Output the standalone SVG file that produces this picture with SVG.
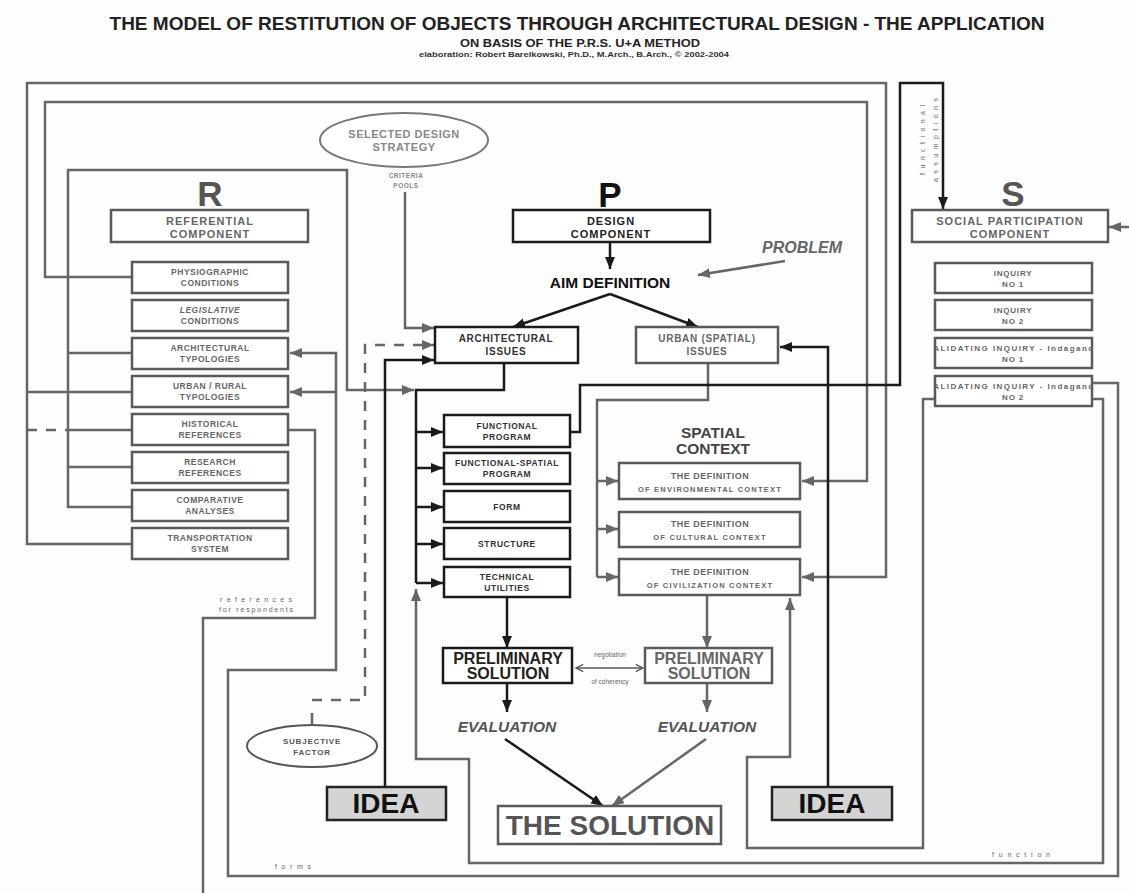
<svg xmlns="http://www.w3.org/2000/svg" width="1129" height="893" viewBox="0 0 1129 893">
<style>
text{font-family:"Liberation Sans",Arial,sans-serif;font-weight:bold;text-anchor:middle}
.g{fill:none;stroke:#666;stroke-width:2.5}
.k{fill:none;stroke:#1a1a1a;stroke-width:2.5}
.d{fill:none;stroke:#666;stroke-width:2.5;stroke-dasharray:10 9}
.bg{fill:#fff;stroke:#5a5a5a;stroke-width:2.5}
.bk{fill:#fff;stroke:#1a1a1a;stroke-width:2.5}
.idea{fill:#d4d4d4;stroke:#222;stroke-width:2.5}
.rt{font-size:8.5px;fill:#666;letter-spacing:0.5px}
.st{font-size:8px;fill:#666;letter-spacing:0.8px}
.pt{font-size:8.5px;fill:#333;letter-spacing:0.6px}
.ct{font-size:11px;letter-spacing:1px}
.big{font-size:35px}
.sm{font-size:7px;fill:#666;font-weight:normal}
</style>
<defs>
<marker id="ak" viewBox="0 0 12 10" refX="12" refY="5" markerWidth="12" markerHeight="10" markerUnits="userSpaceOnUse" orient="auto"><path d="M0,0 L12,5 L0,10 z" fill="#1a1a1a"/></marker>
<marker id="ag" viewBox="0 0 12 10" refX="12" refY="5" markerWidth="12" markerHeight="10" markerUnits="userSpaceOnUse" orient="auto"><path d="M0,0 L12,5 L0,10 z" fill="#666"/></marker>
<marker id="an" viewBox="0 0 10 10" refX="9" refY="5" markerWidth="9" markerHeight="9" markerUnits="userSpaceOnUse" orient="auto-start-reverse"><path d="M1,1 L9,5 L1,9" fill="none" stroke="#555" stroke-width="1.5"/></marker>
<clipPath id="vclip"><rect x="936" y="330" width="155" height="80"/></clipPath>
</defs>
<rect width="1129" height="893" fill="#fdfdfd"/>

<g id="title">
<text x="577" y="30" style="font-size:19px;fill:#222">THE MODEL OF RESTITUTION OF OBJECTS THROUGH ARCHITECTURAL DESIGN - THE APPLICATION</text>
<text x="580" y="47" style="font-size:10.5px;fill:#222" textLength="240" lengthAdjust="spacingAndGlyphs">ON BASIS OF THE P.R.S. U+A METHOD</text>
<text x="574" y="57" style="font-size:7.5px;fill:#333" textLength="310" lengthAdjust="spacingAndGlyphs">elaboration: Robert Barelkowski, Ph.D., M.Arch., B.Arch., © 2002-2004</text>
</g>

<g id="connectors">
<!-- outer line 1 -->
<path class="g" d="M132,544 H27 V83 H886 V577 H802" marker-end="url(#ag)"/>
<path class="g" d="M27,392 H132"/>
<!-- line 2 -->
<path class="g" d="M132,277 H45 V102 H867 V481 H802" marker-end="url(#ag)"/>
<!-- R frame -->
<path class="g" d="M132,507 H68 V170 H347 V390 H414" marker-end="url(#ag)"/>
<path class="g" d="M68,353 H132 M68,430 H132 M68,467 H132"/>
<path class="d" d="M27,430 H68"/>
<!-- criteria pools -->
<path class="g" d="M405,192 V328 H434" marker-end="url(#ag)"/>
<!-- subjective factor -->
<path class="g" d="M312,725 V713"/>
<path class="d" d="M312,700 H365 V345 H434" marker-end="url(#ag)"/>
<!-- idea left -->
<path class="k" d="M385,787 V360 H434" marker-end="url(#ak)"/>
<!-- architectural branch -->
<path class="k" d="M504,363 V390 H416 V583"/>
<path class="k" d="M416,432 H443" marker-end="url(#ak)"/>
<path class="k" d="M416,468 H443" marker-end="url(#ak)"/>
<path class="k" d="M416,507 H443" marker-end="url(#ak)"/>
<path class="k" d="M416,544 H443" marker-end="url(#ak)"/>
<path class="k" d="M416,583 H443" marker-end="url(#ak)"/>
<!-- forms -->
<path class="g" d="M1092,383 H1118 V876 H228 V670 H336 V353 H290" marker-end="url(#ag)"/>
<path class="g" d="M336,392 H290" marker-end="url(#ag)"/>
<!-- function -->
<path class="g" d="M1092,399 H1103 V863 H469 V759 H416 V589" marker-end="url(#ag)"/>
<!-- validating left -->
<path class="g" d="M935,399 H923 V848 H747 V757 H790 V598" marker-end="url(#ag)"/>
<!-- idea right -->
<path class="k" d="M828,787 V347 H780" marker-end="url(#ak)"/>
<!-- urban branch -->
<path class="g" d="M708,363 V400 H597 V577"/>
<path class="g" d="M597,481 H618" marker-end="url(#ag)"/>
<path class="g" d="M597,529 H618" marker-end="url(#ag)"/>
<path class="g" d="M597,577 H618" marker-end="url(#ag)"/>
<!-- functional assumptions -->
<path class="k" d="M570,432 H580 V385 H900 V83 H943 V209" marker-end="url(#ak)"/>
<!-- historical references -->
<path class="g" d="M288,430 H315 V618 H203 V893"/>
<!-- problem -->
<path class="g" d="M785,261 L698,275" marker-end="url(#ag)"/>
<!-- into S from right -->
<path class="g" d="M1129,227 H1109" marker-end="url(#ag)"/>
<!-- design flow -->
<path class="k" d="M610,242 V269" marker-end="url(#ak)"/>
<path class="k" d="M610,294 L513,327" marker-end="url(#ak)"/>
<path class="k" d="M610,294 L698,327" marker-end="url(#ak)"/>
<path class="k" d="M507,597 V648" marker-end="url(#ak)"/>
<path class="g" d="M707,595 V648" marker-end="url(#ag)"/>
<path d="M576,668 H643" fill="none" stroke="#555" stroke-width="1.5" marker-start="url(#an)" marker-end="url(#an)"/>
<path class="k" d="M507,683 V712" marker-end="url(#ak)"/>
<path class="g" d="M707,683 V712" marker-end="url(#ag)"/>
<path class="k" d="M505,739 L603,806" marker-end="url(#ak)"/>
<path class="g" d="M706,739 L612,806" marker-end="url(#ag)"/>
</g>

<g id="labels">
<text x="256" y="602" class="sm" textLength="72" lengthAdjust="spacing">references</text>
<text x="256" y="612" class="sm" textLength="74" lengthAdjust="spacing">for respondents</text>
<text x="293" y="869" class="sm" textLength="36" lengthAdjust="spacing">forms</text>
<text x="1021" y="857" class="sm" textLength="58" lengthAdjust="spacing">function</text>
<text x="610" y="657" class="sm" style="font-size:6.5px">negotiation</text>
<text x="610" y="684" class="sm" style="font-size:6.5px">of coherency</text>
<text transform="translate(925,140) rotate(-90)" class="sm" textLength="70" lengthAdjust="spacing">functional</text>
<text transform="translate(938,140) rotate(-90)" class="sm" textLength="84" lengthAdjust="spacing">assumptions</text>
<text x="842" y="253" style="font-size:16px;fill:#666;font-style:italic;text-anchor:end">PROBLEM</text>
<text x="713" y="438" style="font-size:15.5px;fill:#444">SPATIAL</text>
<text x="713" y="454" style="font-size:15.5px;fill:#444">CONTEXT</text>
<text x="610" y="288" style="font-size:15.5px;fill:#111">AIM DEFINITION</text>
<text x="507" y="732" style="font-size:15.5px;fill:#555;font-style:italic">EVALUATION</text>
<text x="707" y="732" style="font-size:15.5px;fill:#555;font-style:italic">EVALUATION</text>
</g>

<g id="strategy">
<ellipse cx="404" cy="140" rx="84" ry="27" fill="#fff" stroke="#777" stroke-width="2"/>
<text x="404" y="138" style="font-size:11px;fill:#888;letter-spacing:0.5px">SELECTED DESIGN</text>
<text x="404" y="151" style="font-size:11px;fill:#888;letter-spacing:0.5px">STRATEGY</text>
<text x="406" y="178" style="font-size:6.5px;fill:#888;letter-spacing:0.5px">CRITERIA</text>
<text x="406" y="188" style="font-size:6.5px;fill:#888;letter-spacing:0.5px">POOLS</text>
</g>

<g id="subjective">
<ellipse cx="312" cy="746" rx="65" ry="21" fill="#fff" stroke="#555" stroke-width="2"/>
<text x="312" y="744" style="font-size:8px;fill:#555;letter-spacing:0.8px">SUBJECTIVE</text>
<text x="312" y="755" style="font-size:8px;fill:#555;letter-spacing:0.8px">FACTOR</text>
</g>

<g id="R">
<text x="210" y="206" class="big" fill="#555">R</text>
<rect class="bg" x="111" y="210" width="197" height="32"/>
<text x="210" y="225" class="ct" fill="#666">REFERENTIAL</text>
<text x="210" y="238" class="ct" fill="#666">COMPONENT</text>
</g>
<g id="r-physiographic"><rect class="bg" x="132" y="262" width="156" height="31"/><text x="210" y="275" class="rt">PHYSIOGRAPHIC</text><text x="210" y="286" class="rt">CONDITIONS</text></g>
<g id="r-legislative"><rect class="bg" x="132" y="300" width="156" height="31"/><text x="210" y="313" class="rt" font-style="italic">LEGISLATIVE</text><text x="210" y="324" class="rt">CONDITIONS</text></g>
<g id="r-arch-typ"><rect class="bg" x="132" y="338" width="156" height="31"/><text x="210" y="351" class="rt">ARCHITECTURAL</text><text x="210" y="362" class="rt">TYPOLOGIES</text></g>
<g id="r-urban-typ"><rect class="bg" x="132" y="376" width="156" height="31"/><text x="210" y="389" class="rt">URBAN / RURAL</text><text x="210" y="400" class="rt">TYPOLOGIES</text></g>
<g id="r-historical"><rect class="bg" x="132" y="414" width="156" height="31"/><text x="210" y="427" class="rt">HISTORICAL</text><text x="210" y="438" class="rt">REFERENCES</text></g>
<g id="r-research"><rect class="bg" x="132" y="452" width="156" height="31"/><text x="210" y="465" class="rt">RESEARCH</text><text x="210" y="476" class="rt">REFERENCES</text></g>
<g id="r-comparative"><rect class="bg" x="132" y="490" width="156" height="31"/><text x="210" y="503" class="rt">COMPARATIVE</text><text x="210" y="514" class="rt">ANALYSES</text></g>
<g id="r-transport"><rect class="bg" x="132" y="528" width="156" height="31"/><text x="210" y="541" class="rt">TRANSPORTATION</text><text x="210" y="552" class="rt">SYSTEM</text></g>

<g id="P">
<text x="610" y="207" class="big" fill="#111">P</text>
<rect class="bk" x="513" y="210" width="197" height="32"/>
<text x="611" y="225" class="ct" fill="#222">DESIGN</text>
<text x="611" y="238" class="ct" fill="#222">COMPONENT</text>
</g>
<g id="arch-issues"><rect class="bk" x="435" y="327" width="143" height="36"/><text x="506" y="342" style="font-size:10px;fill:#333;letter-spacing:0.7px">ARCHITECTURAL</text><text x="506" y="355" style="font-size:10px;fill:#333;letter-spacing:0.7px">ISSUES</text></g>
<g id="urban-issues"><rect class="bg" x="636" y="327" width="142" height="36"/><text x="707" y="342" style="font-size:10px;fill:#666;letter-spacing:0.7px">URBAN (SPATIAL)</text><text x="707" y="355" style="font-size:10px;fill:#666;letter-spacing:0.7px">ISSUES</text></g>

<g id="p-functional"><rect class="bk" x="444" y="415" width="126" height="32"/><text x="507" y="429" class="pt">FUNCTIONAL</text><text x="507" y="440" class="pt">PROGRAM</text></g>
<g id="p-funcspatial"><rect class="bk" x="444" y="453" width="126" height="31"/><text x="507" y="466" class="pt">FUNCTIONAL-SPATIAL</text><text x="507" y="477" class="pt">PROGRAM</text></g>
<g id="p-form"><rect class="bk" x="444" y="491" width="126" height="31"/><text x="507" y="510" class="pt">FORM</text></g>
<g id="p-structure"><rect class="bk" x="444" y="528" width="126" height="31"/><text x="507" y="547" class="pt">STRUCTURE</text></g>
<g id="p-technical"><rect class="bk" x="444" y="567" width="126" height="30"/><text x="507" y="580" class="pt">TECHNICAL</text><text x="507" y="591" class="pt">UTILITIES</text></g>

<g id="ctx-env"><rect class="bg" x="619" y="463" width="181" height="36"/><text x="710" y="479" style="font-size:9px;fill:#666;letter-spacing:0.5px">THE DEFINITION</text><text x="710" y="492" style="font-size:7.5px;fill:#666;letter-spacing:1.2px">OF ENVIRONMENTAL CONTEXT</text></g>
<g id="ctx-cult"><rect class="bg" x="619" y="512" width="181" height="35"/><text x="710" y="527" style="font-size:9px;fill:#666;letter-spacing:0.5px">THE DEFINITION</text><text x="710" y="540" style="font-size:7.5px;fill:#666;letter-spacing:1.2px">OF CULTURAL CONTEXT</text></g>
<g id="ctx-civ"><rect class="bg" x="619" y="559" width="181" height="36"/><text x="710" y="575" style="font-size:9px;fill:#666;letter-spacing:0.5px">THE DEFINITION</text><text x="710" y="588" style="font-size:7.5px;fill:#666;letter-spacing:1.2px">OF CIVILIZATION CONTEXT</text></g>

<g id="prelim-left"><rect class="bk" x="443" y="648" width="129" height="35"/><text x="508" y="664" style="font-size:16px;fill:#222">PRELIMINARY</text><text x="508" y="679" style="font-size:16px;fill:#222">SOLUTION</text></g>
<g id="prelim-right"><rect class="bg" x="645" y="648" width="127" height="35"/><text x="709" y="664" style="font-size:16px;fill:#666">PRELIMINARY</text><text x="709" y="679" style="font-size:16px;fill:#666">SOLUTION</text></g>

<g id="solution"><rect class="bg" x="498" y="806" width="223" height="38"/><text x="610" y="835" style="font-size:28px;fill:#555">THE SOLUTION</text></g>
<g id="idea-left"><rect class="idea" x="327" y="787" width="119" height="33"/><text x="386" y="813" style="font-size:28px;fill:#111">IDEA</text></g>
<g id="idea-right"><rect class="idea" x="772" y="787" width="120" height="33"/><text x="832" y="813" style="font-size:28px;fill:#111">IDEA</text></g>

<g id="S">
<text x="1013" y="206" class="big" fill="#555">S</text>
<rect class="bg" x="912" y="210" width="196" height="32"/>
<text x="1010" y="225" class="ct" fill="#666">SOCIAL PARTICIPATION</text>
<text x="1010" y="238" class="ct" fill="#666">COMPONENT</text>
</g>
<g id="s-inq1"><rect class="bg" x="935" y="263" width="157" height="30"/><text x="1013" y="276" class="st">INQUIRY</text><text x="1013" y="287" class="st">NO 1</text></g>
<g id="s-inq2"><rect class="bg" x="935" y="300" width="157" height="30"/><text x="1013" y="313" class="st">INQUIRY</text><text x="1013" y="324" class="st">NO 2</text></g>
<g id="s-val1"><rect class="bg" x="935" y="338" width="157" height="30"/><text x="1013" y="351" class="st" clip-path="url(#vclip)" textLength="172" lengthAdjust="spacing" style="letter-spacing:0">VALIDATING INQUIRY - Indaganda</text><text x="1013" y="362" class="st">NO 1</text></g>
<g id="s-val2"><rect class="bg" x="935" y="376" width="157" height="30"/><text x="1013" y="389" class="st" clip-path="url(#vclip)" textLength="172" lengthAdjust="spacing" style="letter-spacing:0">VALIDATING INQUIRY - Indaganda</text><text x="1013" y="400" class="st">NO 2</text></g>
</svg>
